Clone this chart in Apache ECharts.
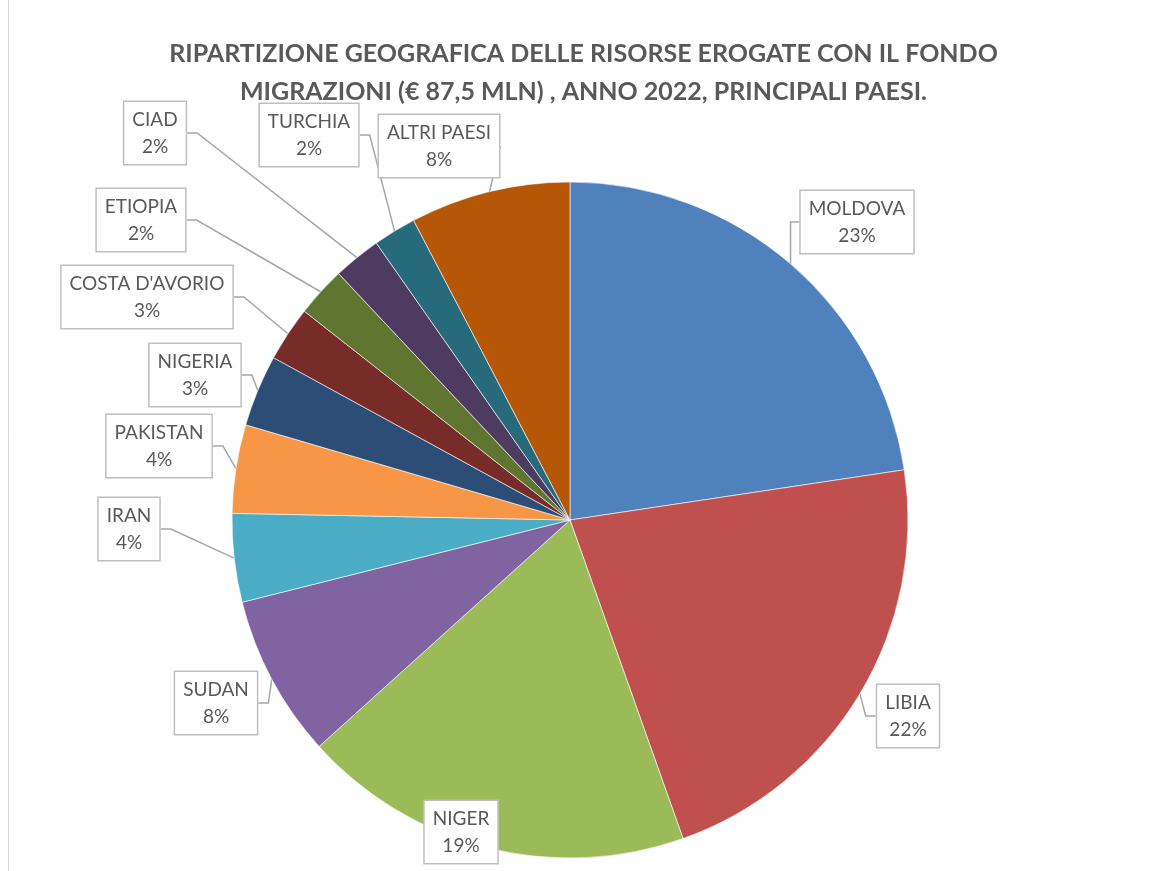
<!DOCTYPE html>
<html>
<head>
<meta charset="utf-8">
<script src="https://cdn.jsdelivr.net/npm/echarts@6/dist/echarts.min.js"></script>
<style>
	html, body { margin: 0; padding: 0; background: #fff; }
	#pie { width: 1167px; height: 871px; }
</style>
</head>
<body>
<div id="pie"></div>
<script>
// paesi e importi (mln €)
const countries = ['MOLDOVA', 'LIBIA', 'NIGER', 'SUDAN', 'IRAN', 'PAKISTAN', 'NIGERIA', "COSTA D'AVORIO", 'ETIOPIA', 'CIAD', 'TURCHIA', 'ALTRI PAESI'];
const amounts = [19.8, 19.2, 16.4, 6.8, 3.7, 3.7, 3.0, 2.3, 2.1, 2.0, 1.8, 6.7];
const sliceColors = ['#4F81BD', '#C0504D', '#9BBB59', '#8064A2', '#4BACC6', '#F79646', '#2C4D75', '#772C2A', '#5F7530', '#4D3B62', '#276A7C', '#B65708'];

// centro delle etichette (layout)
const labelCenters = [
	[857, 222], [908, 716], [461, 832], [216, 703], [129, 529], [159, 446],
	[195, 375], [147, 297], [141, 220], [155, 133], [309, 135], [439, 146],
];

const myChart = echarts.init(document.getElementById('pie'));

myChart.setOption({
	backgroundColor: '#fff',
	title: {
		text: 'RIPARTIZIONE GEOGRAFICA DELLE RISORSE EROGATE CON IL FONDO\nMIGRAZIONI (€ 87,5 MLN) , ANNO 2022, PRINCIPALI PAESI.',
		left: 'center',
		top: 30,
		textStyle: {
			fontFamily: 'Lato, "Open Sans", sans-serif',
			fontWeight: 'bold',
			fontSize: 25,
			lineHeight: 38,
			color: '#595959',
			align: 'center',
		},
	},
	graphic: [
		{ // bordo area grafico
			type: 'rect',
			shape: { x: 8.5, y: -2, width: 1200, height: 880 },
			style: { fill: 'none', stroke: '#d9d9d9', lineWidth: 1 },
			silent: true,
		},
	],
	series: [
		{
			type: 'pie',
			center: [570, 520],
			radius: 338,
			startAngle: 90,
			clockwise: true,
			percentPrecision: 0,
			avoidLabelOverlap: false,
			data: countries.map((name, i) => ({
				name,
				value: amounts[i],
				itemStyle: { color: sliceColors[i] },
			})),
			itemStyle: {
				borderColor: '#fff',
				borderWidth: 0.6,
			},
			label: {
				show: true,
				position: 'outside',
				formatter: '{b}\n{d}%',
				fontFamily: 'Lato, "Open Sans", sans-serif',
				fontSize: 19,
				lineHeight: 27,
				color: '#595959',
				align: 'center',
				backgroundColor: '#fff',
				borderColor: '#bfbfbf',
				borderWidth: 1.5,
				padding: [5, 8, 3, 8],
			},
			labelLine: {
				show: true,
				length: 10,
				length2: 10,
				lineStyle: { color: '#a6a6a6', width: 1.5 },
			},
			labelLayout: (params) => {
				const c = labelCenters[params.dataIndex];
				return {
					x: c[0],
					y: c[1],
					align: 'center',
					verticalAlign: 'middle',
				};
			},
		},
	],
});
</script>
</body>
</html>
